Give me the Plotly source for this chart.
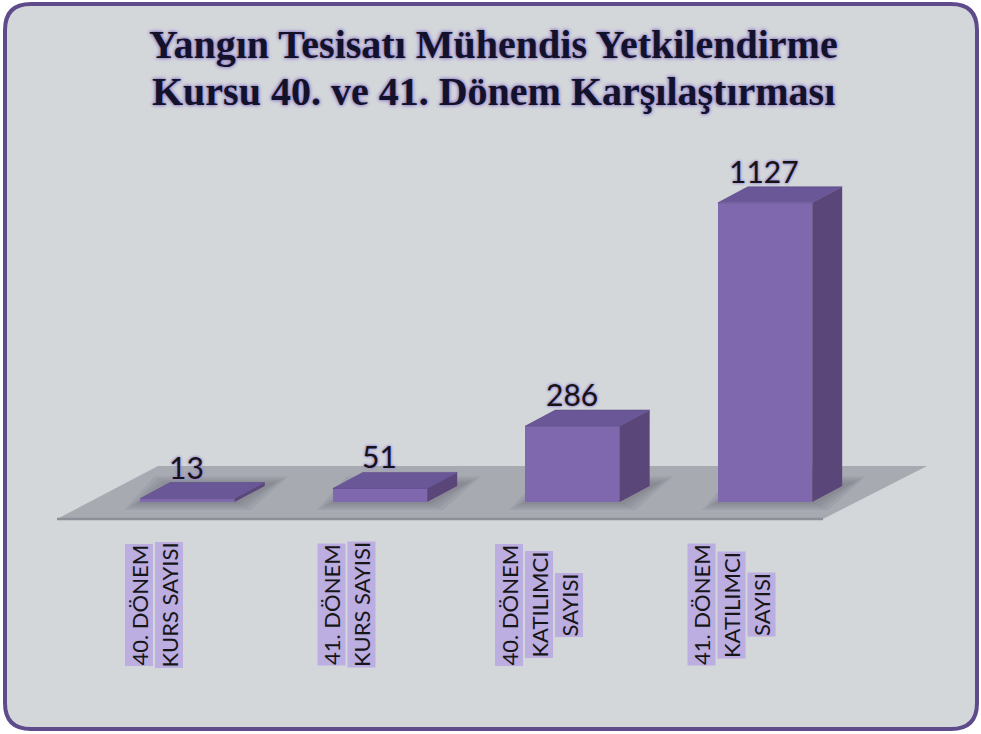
import plotly.graph_objects as go

# ---- data ----
categories = [
    "40. DÖNEM<br>KURS SAYISI",
    "41. DÖNEM<br>KURS SAYISI",
    "40. DÖNEM<br>KATILIMCI<br>SAYISI",
    "41. DÖNEM<br>KATILIMCI<br>SAYISI",
]
values = [13, 51, 286, 1127]
title_lines = [
    "Yangın Tesisatı Mühendis Yetkilendirme",
    "Kursu 40. ve 41. Dönem Karşılaştırması",
]

# ---- geometry / style ----
W, H = 981, 734
X_RANGE = [-0.974, 4.122]
Y_RANGE = [-874, 1891]
PX_X = W / (X_RANGE[1] - X_RANGE[0])
PX_Y = H / (Y_RANGE[1] - Y_RANGE[0])

BAR_W = 0.49
DX = 30 / PX_X          # depth offset of the 3D bars, in x units
DY = 16 / PX_Y          # depth offset of the 3D bars, in y units

FRONT = "#7f68ad"
SIDE = "#5a4679"
TOP = "#6a5797"
BG = "#d3d7da"
FRAME = "#5e4b8b"
FLOOR = "#a7aab1"
FLOOR_EDGE = "#8c8f97"
LABEL_BG = "#bcaee0"
GLOW = "0px 0px 3px #9c86d6, 0px 0px 3px #9c86d6"


def fx(px):
    return X_RANGE[0] + px / PX_X


def fy(py):
    return Y_RANGE[1] - py / PX_Y


def px_paper(px, py):
    return px / W, 1 - py / H


x_pos = list(range(len(values)))

fig = go.Figure()

# front faces
fig.add_trace(go.Bar(
    x=x_pos, y=values, width=BAR_W, base=0,
    marker=dict(color=FRONT, line=dict(width=0)),
    hoverinfo="skip", showlegend=False,
))

# side faces
for xi, v in zip(x_pos, values):
    r = xi + BAR_W / 2
    fig.add_trace(go.Scatter(
        x=[r, r + DX, r + DX, r, r], y=[0, DY, v + DY, v, 0],
        fill="toself", fillcolor=SIDE, mode="lines", line=dict(width=0),
        hoverinfo="skip", showlegend=False,
    ))

# top faces
for xi, v in zip(x_pos, values):
    l, r = xi - BAR_W / 2, xi + BAR_W / 2
    fig.add_trace(go.Scatter(
        x=[l, r, r + DX, l + DX, l], y=[v, v, v + DY, v + DY, v],
        fill="toself", fillcolor=TOP, mode="lines", line=dict(width=0.6, color="#5d4b88"),
        hoverinfo="skip", showlegend=False,
    ))

shapes = []

# rounded frame
x0, y0, x1, y1, rad = 5, 4, 977, 729, 26


def P(px, py):
    a, b = px_paper(px, py)
    return f"{a:.5f},{b:.5f}"


path = (
    f"M {P(x0 + rad, y0)} L {P(x1 - rad, y0)} Q {P(x1, y0)} {P(x1, y0 + rad)} "
    f"L {P(x1, y1 - rad)} Q {P(x1, y1)} {P(x1 - rad, y1)} "
    f"L {P(x0 + rad, y1)} Q {P(x0, y1)} {P(x0, y1 - rad)} "
    f"L {P(x0, y0 + rad)} Q {P(x0, y0)} {P(x0 + rad, y0)} Z"
)
shapes.append(dict(type="path", xref="paper", yref="paper", path=path,
                   fillcolor=BG, line=dict(color=FRAME, width=4), layer="below"))

# floor plane
floor = [(57, 519), (823, 519), (927, 466), (158, 466)]
fpath = "M " + " L ".join(f"{fx(a):.4f},{fy(b):.2f}" for a, b in floor) + " Z"
shapes.append(dict(type="path", xref="x", yref="y", path=fpath,
                   fillcolor=FLOOR, line=dict(width=0), layer="below"))
shapes.append(dict(type="line", xref="x", yref="y",
                   x0=fx(57), y0=fy(519), x1=fx(823), y1=fy(519),
                   line=dict(color=FLOOR_EDGE, width=2.5), layer="below"))

# soft shadows around each bar footprint (stacked translucent layers)
for xi, v in zip(x_pos, values):
    l, r = xi - BAR_W / 2, xi + BAR_W / 2
    for k in (4, 3, 2, 1):
        gx = k * 4 / PX_X
        gy = k * 2 / PX_Y
        sp = (f"M {l - gx:.4f},{-gy:.2f} L {r + gx:.4f},{-gy:.2f} "
              f"L {r + DX * 1.25 + gx:.4f},{DY * 1.1 + gy:.2f} "
              f"L {l + DX - gx:.4f},{DY * 1.1 + gy:.2f} Z")
        shapes.append(dict(type="path", xref="x", yref="y", path=sp,
                           fillcolor="rgba(80,82,92,0.09)", line=dict(width=0), layer="below"))

annotations = []

# title, one annotation per line
for t, cy in zip(title_lines, [45, 91]):
    annotations.append(dict(
        text=t, xref="paper", yref="paper", x=493 / W, y=1 - cy / H,
        xanchor="center", yanchor="middle", showarrow=False,
        font=dict(family="Liberation Serif", size=40, color="#12122a",
                  weight="bold", shadow="0px 0px 4px #8f78c8, 0px 0px 3px #8f78c8"),
    ))

# value labels
for xi, v in zip(x_pos, values):
    annotations.append(dict(
        text=str(v), xref="x", yref="y", x=xi, y=v, yshift=32, xshift=-1,
        xanchor="center", yanchor="middle", showarrow=False,
        font=dict(family="Lato", size=30, color="#141414", shadow=GLOW),
    ))

# category labels, vertical, each line highlighted
for xi, cat in zip(x_pos, categories):
    lines = cat.split("<br>")
    n = len(lines)
    for k, ln in enumerate(lines):
        annotations.append(dict(
            text=ln, xref="x", yref="paper", x=xi, y=1 - 605 / H,
            xshift=-34 + (k - (n - 1) / 2) * 30,
            xanchor="center", yanchor="middle", textangle=-90, showarrow=False,
            bgcolor=LABEL_BG, borderpad=0,
            font=dict(family="Lato", size=22, color="#161616",
                      shadow="0px 0px 2px #b5a4e0"),
        ))

fig.update_layout(
    width=W, height=H, autosize=False,
    margin=dict(l=0, r=0, t=0, b=0),
    paper_bgcolor="white", plot_bgcolor="rgba(0,0,0,0)",
    xaxis=dict(range=X_RANGE, visible=False, fixedrange=True),
    yaxis=dict(range=Y_RANGE, visible=False, fixedrange=True),
    shapes=shapes, annotations=annotations,
    bargap=0, showlegend=False,
)

fig.write_html("out.html")
